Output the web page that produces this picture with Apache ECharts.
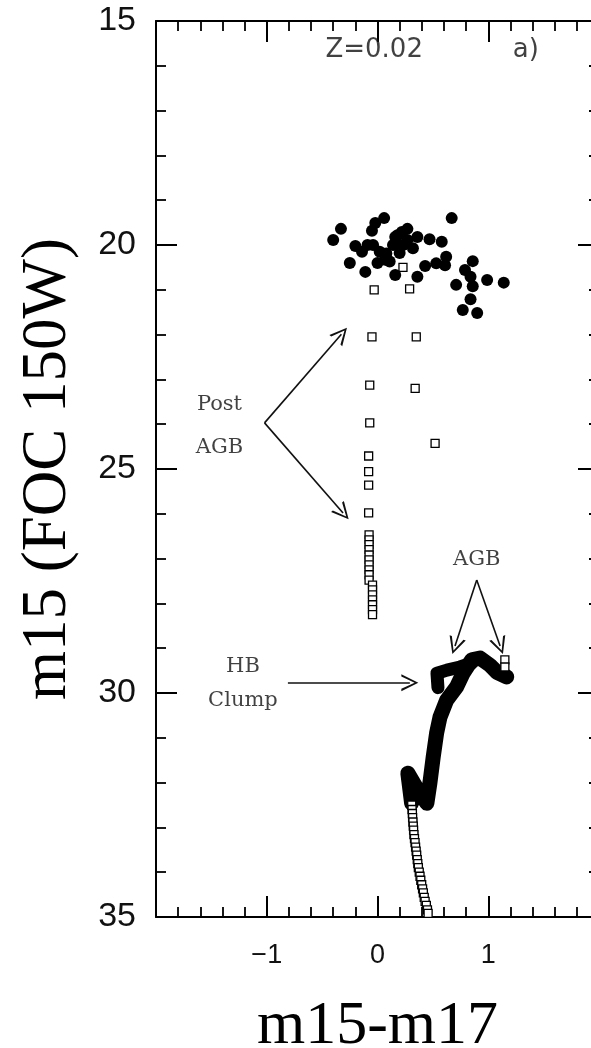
<!DOCTYPE html>
<html>
<head>
<meta charset="utf-8">
<script src="https://cdn.jsdelivr.net/npm/echarts@6/dist/echarts.min.js"></script>
<style>
html,body{margin:0;padding:0;background:#fff;}
#chart{width:591px;height:1048px;}
</style>
</head>
<body>
<div id="chart"></div>
<script>
// ---- data (m15-m17, m15) ----
const xTicks = [-2, -1, 0, 1, 2];
const yTicks = [15, 20, 25, 30, 35];

// observed stars (filled circles)
const starsObs = [
  [-0.40,19.89],[-0.33,19.64],[-0.05,19.68],[-0.02,19.51],[0.06,19.40],[0.67,19.40],
  [0.16,19.82],[0.27,19.64],[0.36,19.82],[0.47,19.87],[0.58,19.93],[-0.04,20.00],
  [-0.14,20.15],[-0.25,20.40],[-0.11,20.60],[0.11,20.37],[0.16,20.67],[0.23,20.00],
  [0.32,20.07],[0.20,20.18],[0.36,20.71],[0.43,20.47],[0.53,20.41],[0.62,20.26],
  [0.61,20.45],[0.86,20.36],[0.79,20.56],[0.84,20.71],[0.99,20.78],[1.14,20.84],
  [0.71,20.89],[0.86,20.92],[0.84,21.21],[0.77,21.45],[0.90,21.52],[0.02,20.15],
  [0.08,20.19],[0.14,20.00],[0.18,19.78],[0.22,19.71],[0.27,19.89],[-0.20,20.02],
  [-0.09,20.00],[0.07,20.33],[0.00,20.40]
];

// post-AGB model points (open squares)
const postAgb = [
  [0.23,20.50],[-0.03,21.00],[0.29,20.98],[-0.05,22.05],[0.35,22.05],[-0.07,23.13],
  [0.34,23.20],[-0.07,23.97],[0.52,24.43],[-0.08,24.71],[-0.08,25.06],[-0.08,25.36],
  [-0.08,25.98],
  [-0.076,26.47],[-0.076,26.58],[-0.076,26.69],[-0.076,26.80],[-0.076,26.92],[-0.076,27.03],
  [-0.076,27.14],[-0.076,27.25],[-0.076,27.36],[-0.076,27.48],[-0.045,27.59],[-0.045,27.70],
  [-0.045,27.81],[-0.045,27.92],[-0.045,28.03],[-0.045,28.14],[-0.045,28.25]
];

// AGB open squares at the end of the clump
const agbSquares = [[1.15,29.26],[1.15,29.42]];

// lower model points (open squares)
const lowerTrack = [
  [0.309,32.50],[0.312,32.60],[0.315,32.69],[0.317,32.78],[0.320,32.88],[0.323,32.97],
  [0.326,33.06],[0.329,33.16],[0.334,33.25],[0.339,33.34],[0.344,33.44],[0.349,33.53],
  [0.354,33.62],[0.359,33.72],[0.364,33.81],[0.369,33.90],[0.377,34.00],[0.384,34.09],
  [0.391,34.18],[0.399,34.28],[0.407,34.37],[0.414,34.46],[0.422,34.56],[0.430,34.65],
  [0.441,34.74],[0.451,34.84],[0.457,34.92]
];

// dense model track (drawn as a thick band)
const denseTrack = [
  [0.308,32.46],[0.274,31.79],[0.365,32.17],[0.446,32.46],[0.473,32.01],[0.503,31.43],
  [0.534,30.89],[0.564,30.54],[0.624,30.16],[0.715,29.86],[0.775,29.55],[0.851,29.26],
  [0.926,29.22],[1.016,29.38],[1.080,29.54],[1.167,29.64]
];
const clumpBlob = [[0.546,29.88],[0.537,29.56],[0.627,29.49],[0.745,29.42],[0.853,29.33]];

// annotations
const labels = [
  {name:'Z=0.02', value:[-0.03,15.66], kind:'sans'},
  {name:'a)', value:[1.34,15.66], kind:'sans'},
  {name:'Post', value:[-1.427,23.57], kind:'serif'},
  {name:'AGB', value:[-1.427,24.51], kind:'serif'},
  {name:'AGB', value:[0.896,27.03], kind:'serif'},
  {name:'HB', value:[-1.215,29.40], kind:'serif'},
  {name:'Clump', value:[-1.215,30.16], kind:'serif'}
];
const arrows = [
  [[-1.02,23.97],[-0.326,21.99]],
  [[-1.02,23.97],[-0.311,25.98]],
  [[0.896,27.48],[0.70,28.95]],
  [[0.896,27.48],[1.107,28.95]],
  [[-0.809,29.77],[0.292,29.77]]
];

const chevron = 'path://M50,0 L100,100 L86,100 L50,22 L14,100 L0,100 Z';

const chart = echarts.init(document.getElementById('chart'), null, {renderer:'canvas'});
function axisLine(){ return {show:true, onZero:false, lineStyle:{color:'#000', width:2}}; }
function tick(){ return {show:true, inside:true, length:21, lineStyle:{color:'#000', width:2}}; }
function minor(){ return {show:true, splitNumber:5, length:10, lineStyle:{color:'#000', width:1.8}}; }

const option = {
  backgroundColor:'#fff',
  animation:false,
  grid:{left:156, right:-8, top:21, bottom:131, containLabel:false, outerBoundsMode:'none'},
  xAxis:[
    {type:'value', min:xTicks[0], max:xTicks[xTicks.length-1], interval:1, position:'bottom',
     axisLine:axisLine(), axisTick:tick(), minorTick:minor(), splitLine:{show:false},
     axisLabel:{show:true, margin:25, fontFamily:'Liberation Sans', fontSize:27, color:'#111',
       showMinLabel:false, showMaxLabel:false,
       formatter:v=> (v===-2||v===2)?'':String(v).replace('-','\u2212')},
     name:'m15-m17', nameLocation:'middle', nameGap:79,
     nameTextStyle:{fontFamily:'Liberation Serif', fontSize:62, color:'#000'}},
    {type:'value', min:xTicks[0], max:xTicks[xTicks.length-1], interval:1, position:'top',
     axisLine:axisLine(), axisTick:tick(), minorTick:minor(), splitLine:{show:false},
     axisLabel:{show:true, inside:true, color:'rgba(0,0,0,0)', formatter:()=>''}}
  ],
  yAxis:[
    {type:'value', min:yTicks[0], max:yTicks[yTicks.length-1], interval:5, inverse:true, position:'left',
     axisLine:axisLine(), axisTick:tick(), minorTick:minor(), splitLine:{show:false},
     axisLabel:{show:true, margin:20, fontFamily:'Liberation Sans', fontSize:34, color:'#111'},
     name:'m15 (FOC 150W)', nameLocation:'middle', nameGap:76, nameRotate:90,
     nameTextStyle:{fontFamily:'Liberation Serif', fontSize:63, color:'#000'}},
    {type:'value', min:yTicks[0], max:yTicks[yTicks.length-1], interval:5, inverse:true, position:'right',
     axisLine:axisLine(), axisTick:tick(), minorTick:minor(), splitLine:{show:false},
     axisLabel:{show:true, inside:true, color:'rgba(0,0,0,0)', formatter:()=>''}}
  ],
  series:[
    {type:'line', data:denseTrack, showSymbol:false, symbol:'none',
     lineStyle:{color:'#000', width:15, join:'round', cap:'round'}, z:3},
    {type:'line', data:clumpBlob, showSymbol:false, symbol:'none',
     lineStyle:{color:'#000', width:13, join:'round', cap:'round'}, z:3},
    {type:'scatter', data:lowerTrack, symbol:'rect', symbolSize:8,
     itemStyle:{color:'#fff', borderColor:'#000', borderWidth:1.3, opacity:1}, z:4},
    {type:'scatter', data:postAgb, symbol:'rect', symbolSize:8,
     itemStyle:{color:'#fff', borderColor:'#000', borderWidth:1.3, opacity:1}, z:4},
    {type:'scatter', data:agbSquares, symbol:'rect', symbolSize:8,
     itemStyle:{color:'#fff', borderColor:'#000', borderWidth:1.3, opacity:1}, z:4},
    {type:'scatter', data:starsObs, symbol:'circle', symbolSize:12,
     itemStyle:{color:'#000', opacity:1}, z:5},
    {type:'lines', coordinateSystem:'cartesian2d', polyline:false,
     data:arrows.map(a=>({coords:a})),
     symbol:['none', chevron], symbolSize:[11,17],
     lineStyle:{color:'#111', width:1.6, opacity:1}, z:6},
    {type:'scatter', symbolSize:0, silent:true, z:7,
     data:labels.map(l=>({name:l.name, value:l.value,
       label:{show:true, position:'inside', formatter:l.name, color:'#111',
         fontFamily: l.kind==='sans' ? 'DejaVu Sans' : 'DejaVu Serif',
         fontSize: l.kind==='sans' ? 26 : 21}}))}
  ]
};
chart.setOption(option);
</script>
</body>
</html>
